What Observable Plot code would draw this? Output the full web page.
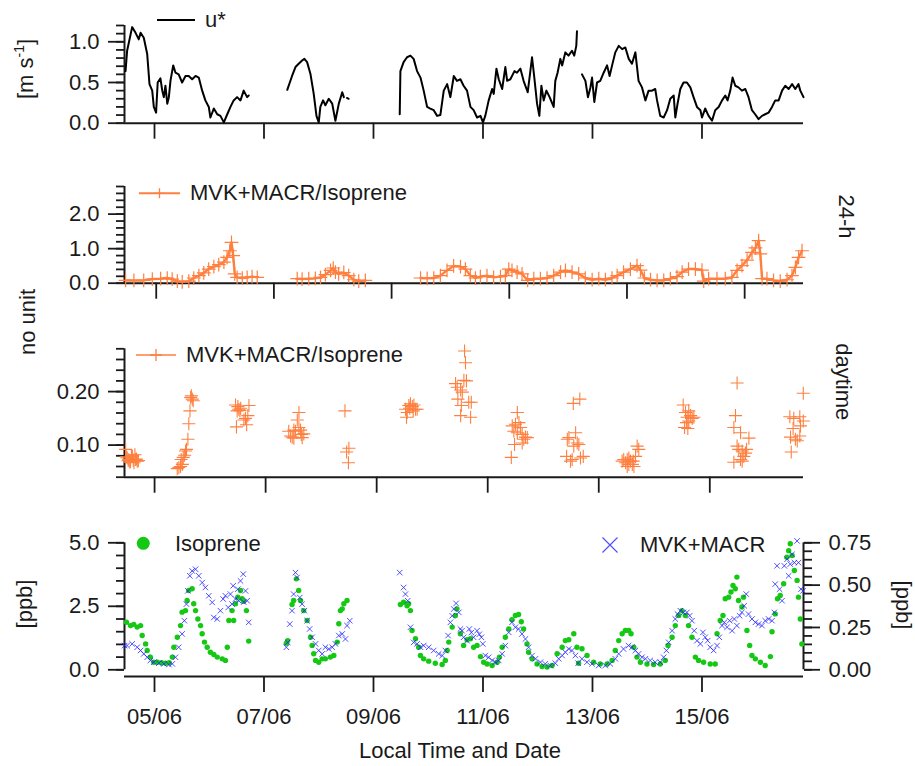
<!DOCTYPE html>
<html><head><meta charset="utf-8">
<script src="https://cdn.jsdelivr.net/npm/d3@7"></script>
<script src="https://cdn.jsdelivr.net/npm/@observablehq/plot@0.6"></script>
<style>
body{margin:0;background:#fff;}
#chart{position:relative;width:915px;height:766px;font-family:"Liberation Sans",Arial,sans-serif;}
#chart svg{position:absolute;left:0;overflow:visible;}
</style></head><body><div id="chart"></div>
<script>
// time unit: hours since 04/06 00:00 local time
const xTickHours = [24, 72, 120, 168, 216, 264];
const xTickLabels = ["05/06", "07/06", "09/06", "11/06", "13/06", "15/06"];

// friction velocity u* [m s-1]; null = data gap
const ustar = [
[11.3,0.64],[12.0,0.89],[14.2,1.18],[15.7,1.11],[17.1,1.03],[17.9,1.11],[19.3,1.05],[20.8,0.85],[21.8,0.48],[23.0,0.40],[23.7,0.20],[24.7,0.13],[25.4,0.50],[26.6,0.55],[27.4,0.40],[28.1,0.32],[28.8,0.46],[29.6,0.24],[30.3,0.32],[31.0,0.52],[32.2,0.71],[33.2,0.62],[34.6,0.60],[36.1,0.50],[37.6,0.58],[39.0,0.58],[40.5,0.54],[42.0,0.58],[43.4,0.56],[44.9,0.40],[46.3,0.28],[47.8,0.20],[48.5,0.07],[50.0,0.18],[51.5,0.11],[52.9,0.09],[54.4,0.01],[55.9,0.11],[57.3,0.20],[58.7,0.28],[60.2,0.32],[61.7,0.28],[63.1,0.40],[64.6,0.32],[65.3,0.34],
null,
[82.2,0.41],[84.3,0.58],[85.8,0.69],[87.2,0.73],[88.7,0.77],[89.7,0.79],[90.9,0.75],[92.4,0.60],[93.8,0.36],[95.0,0.09],[96.0,0.01],[96.7,0.20],[97.9,0.28],[98.9,0.22],[100.4,0.30],[101.9,0.24],[103.3,0.03],[104.8,0.24],[106.3,0.38],[107.0,0.32],
null,
[108.4,0.31],[109.1,0.30],
null,
[131.5,0.11],[131.8,0.64],[133.2,0.75],[134.7,0.81],[136.2,0.83],[137.6,0.79],[139.1,0.64],[140.6,0.56],[142.0,0.40],[143.5,0.20],[144.9,0.18],[146.4,0.16],[147.9,0.09],[149.3,0.10],[150.8,0.40],[152.3,0.48],[153.7,0.32],[155.2,0.58],[156.6,0.52],[158.1,0.54],[159.5,0.46],[161.0,0.40],[162.5,0.20],[163.9,0.16],[165.4,0.07],[166.9,0.09],[168.0,0.01],[169.0,0.09],[170.5,0.28],[172.0,0.42],[172.7,0.36],[173.9,0.67],[174.9,0.54],[176.4,0.42],[177.8,0.69],[178.6,0.52],[180.0,0.54],[181.8,0.64],[182.9,0.62],[184.4,0.67],[185.8,0.52],[187.6,0.38],[188.5,0.58],[189.5,0.81],[190.5,0.56],[191.7,0.24],[192.7,0.09],[193.6,0.46],[194.6,0.28],[195.8,0.40],[197.2,0.32],[199.0,0.20],[199.7,0.52],[200.7,0.62],[201.9,0.79],[202.7,0.71],[204.1,0.87],[205.5,0.83],[207.0,0.89],[208.0,0.83],[208.9,0.95],[209.2,1.13],
null,
[211.4,0.60],[212.9,0.52],[214.0,0.32],[215.1,0.44],[215.8,0.56],[216.8,0.26],[218.0,0.50],[219.4,0.52],[220.9,0.62],[222.4,0.71],[223.5,0.58],[224.6,0.71],[226.0,0.87],[227.5,0.95],[229.0,0.91],[230.4,0.93],[231.9,0.79],[233.3,0.73],[234.8,0.87],[236.2,0.52],[237.7,0.44],[239.2,0.28],[240.6,0.40],[242.1,0.40],[243.5,0.42],[244.3,0.28],[245.7,0.09],[247.2,0.07],[248.7,0.16],[250.1,0.30],[251.6,0.34],[252.3,0.07],[253.3,0.24],[254.5,0.42],[255.9,0.50],[257.4,0.50],[258.9,0.44],[260.3,0.32],[261.8,0.20],[263.3,0.16],[264.0,0.07],[265.4,0.18],[266.9,0.09],[268.4,0.03],[269.8,0.16],[271.3,0.20],[272.8,0.28],[274.2,0.34],[275.2,0.28],[276.4,0.40],[277.4,0.56],[278.6,0.46],[280.0,0.44],[281.5,0.40],[283.0,0.42],[284.4,0.32],[285.9,0.16],[287.3,0.11],[288.8,0.05],[290.3,0.09],[291.7,0.11],[293.2,0.13],[294.7,0.20],[296.1,0.28],[297.6,0.28],[299.1,0.40],[300.5,0.46],[302.0,0.42],[303.5,0.48],[304.9,0.42],[306.3,0.48],[307.1,0.40],[308.5,0.32]
];

// MVK+MACR / Isoprene, 24-h data; null = gap
const ratio24h = [
[11.5,0.08],[14.9,0.08],[18.9,0.08],[22.4,0.12],[25.8,0.13],[28.5,0.15],[30.5,0.12],[32.6,0.06],[34.6,0.04],[37.3,0.06],[39.3,0.15],[41.4,0.22],[43.4,0.30],[45.4,0.41],[47.5,0.48],[49.5,0.54],[51.6,0.61],[52.9,0.75],[54.0,0.94],[54.7,1.18],[55.4,0.80],[56.0,0.27],[57.0,0.17],[59.1,0.15],[61.1,0.17],[63.1,0.19],[65.2,0.17],
null,
[81.5,0.13],[83.5,0.12],[86.2,0.13],[88.9,0.14],[91.0,0.17],[93.0,0.25],[95.1,0.37],[96.2,0.44],[97.1,0.32],[98.4,0.27],[100.5,0.31],[102.5,0.22],[104.6,0.10],[106.6,0.06],[109.3,0.08],
null,
[131.8,0.15],[134.5,0.14],[137.2,0.15],[139.9,0.22],[142.6,0.37],[145.3,0.50],[148.1,0.48],[150.1,0.41],[152.1,0.22],[154.2,0.15],[156.2,0.19],[158.9,0.22],[161.6,0.17],[164.4,0.19],[166.4,0.22],[167.8,0.41],[169.1,0.37],[171.2,0.32],[173.2,0.27],[175.5,0.08],[178.0,0.13],[180.7,0.13],[183.4,0.15],[186.1,0.22],[188.9,0.32],[190.9,0.37],[193.6,0.32],[196.3,0.27],[199.0,0.15],[201.8,0.10],[204.5,0.13],[207.2,0.10],[209.9,0.15],[212.0,0.22],[214.6,0.32],[217.4,0.41],[220.1,0.51],[221.5,0.38],[223.1,0.15],[225.6,0.10],[228.3,0.08],[231.0,0.08],[233.7,0.13],[236.4,0.19],[238.5,0.32],[241.1,0.41],[243.9,0.41],[246.6,0.38],[247.3,0.06],[249.3,0.13],[252.7,0.13],[256.1,0.13],[258.8,0.17],[260.9,0.37],[262.9,0.51],[265.0,0.67],[267.0,0.89],[268.4,1.02],[269.7,1.23],[270.4,0.85],[271.1,0.13],[273.1,0.13],[275.8,0.08],[278.5,0.06],[281.3,0.10],[283.3,0.22],[284.7,0.46],[286.0,0.75],[287.4,0.94]
];

// MVK+MACR / Isoprene, daytime data
const ratioDay = [
[11.5,0.092],[11.8,0.078],[12.2,0.076],[12.6,0.071],[12.9,0.073],[13.3,0.068],[13.6,0.070],[14.0,0.080],[14.4,0.079],[14.8,0.072],[15.1,0.067],[15.5,0.082],[15.8,0.073],[16.2,0.074],[16.5,0.070],[17.0,0.071],
[33.8,0.056],[34.5,0.058],[35.2,0.060],[35.5,0.073],[36.0,0.064],[36.4,0.077],[37.0,0.081],[37.4,0.089],[37.8,0.092],[38.4,0.111],[38.8,0.140],[39.3,0.164],[39.6,0.189],[39.9,0.192],[40.3,0.186],[40.7,0.183],
[59.0,0.175],[59.4,0.134],[59.7,0.164],[60.0,0.172],[60.4,0.167],[60.9,0.165],[61.2,0.169],[62.6,0.147],[63.3,0.150],[63.8,0.138],[64.3,0.155],[64.8,0.174],
[82.0,0.126],[82.8,0.117],[83.5,0.115],[84.2,0.113],[84.2,0.128],[84.9,0.126],[85.7,0.147],[86.4,0.161],[86.4,0.133],[87.1,0.128],[87.4,0.120],[87.8,0.114],[88.5,0.121],
[106.3,0.164],[107.0,0.087],[108.0,0.094],[107.8,0.067],
[132.5,0.167],[132.9,0.152],[133.2,0.161],[133.9,0.174],[134.3,0.169],[134.6,0.177],[135.4,0.172],[135.8,0.164],[136.1,0.175],[136.8,0.167],[137.5,0.167],
[154.1,0.215],[154.8,0.208],[155.1,0.186],[156.3,0.203],[156.3,0.155],[156.6,0.174],[157.0,0.199],[157.7,0.221],[158.0,0.276],[158.4,0.254],[158.8,0.220],[159.8,0.180],[160.6,0.152],[160.9,0.180],
[178.2,0.077],[178.6,0.136],[179.3,0.126],[179.6,0.101],[180.0,0.139],[180.8,0.161],[180.8,0.123],[181.5,0.142],[182.2,0.133],[182.9,0.120],[182.9,0.104],[183.6,0.111],[184.3,0.115],[185.1,0.114],
[202.1,0.079],[202.4,0.111],[203.1,0.114],[203.8,0.070],[204.5,0.073],[205.0,0.178],[205.2,0.098],[206.0,0.123],[206.7,0.104],[207.4,0.101],[207.8,0.186],[208.1,0.076],[209.3,0.079],
[226.1,0.070],[226.8,0.073],[227.6,0.067],[228.3,0.073],[228.3,0.060],[229.0,0.076],[229.0,0.064],[229.7,0.070],[230.5,0.064],[230.9,0.070],[231.2,0.060],[231.9,0.079],[232.6,0.098],[233.3,0.092],
[252.5,0.175],[253.1,0.133],[253.5,0.161],[253.9,0.142],[254.2,0.152],[254.5,0.131],[254.9,0.164],[254.9,0.145],[255.7,0.155],[256.4,0.150],[257.1,0.152],
[274.4,0.133],[275.1,0.155],[275.8,0.216],[275.8,0.098],[276.5,0.092],[277.3,0.123],[278.0,0.089],[278.0,0.070],[278.7,0.079],[279.4,0.085],[279.9,0.092],[280.9,0.113],[274.4,0.068],[277.3,0.073],
[298.6,0.153],[298.9,0.115],[299.2,0.087],[300.0,0.131],[300.3,0.150],[301.0,0.111],[301.8,0.108],[302.9,0.153],[302.9,0.117],[303.2,0.136],[304.4,0.197],[304.4,0.145]
];

// Isoprene [ppb] (left axis)
const isoprene = [
[11.7,1.87],[13.5,1.74],[14.9,1.79],[16.4,1.68],[17.9,1.74],[18.6,1.35],[20.1,1.02],[20.8,0.76],[22.2,0.50],[23.7,0.30],[25.3,0.30],[27.1,0.28],[28.8,0.26],[30.4,0.28],[31.8,0.50],[32.5,0.89],[34.0,1.28],[35.4,1.74],[36.1,2.27],[37.6,2.33],[38.3,2.73],[39.0,3.12],[40.5,3.19],[41.2,2.60],[42.0,2.33],[43.0,2.00],[44.2,1.74],[44.9,1.42],[45.9,1.09],[47.1,0.89],[48.5,0.69],[50.0,0.60],[51.5,0.50],[53.7,0.43],[55.1,0.37],[55.9,0.89],[56.6,1.94],[58.0,2.33],[58.7,1.94],[59.5,2.60],[60.5,2.86],[61.7,3.12],[62.4,2.80],[63.1,2.70],[64.3,2.33],[65.3,1.13],
[81.8,1.05],[82.4,1.15],[84.3,2.57],[85.0,2.73],[86.2,3.58],[87.2,3.12],[88.0,2.73],[89.4,2.33],[90.9,1.94],[92.4,1.28],[93.1,0.96],[93.8,0.63],[94.6,0.37],[96.0,0.30],[97.5,0.43],[98.9,0.43],[101.1,0.50],[102.6,0.56],[104.1,1.09],[104.8,1.81],[105.5,2.33],[106.3,2.40],[107.0,2.60],[108.4,2.73],
[131.8,2.57],[133.2,2.66],[134.7,2.52],[135.4,2.60],[136.2,2.33],[136.9,1.55],[138.4,1.22],[139.8,0.89],[140.6,0.56],[142.0,0.43],[144.2,0.34],[147.1,0.26],[150.1,0.21],[151.5,0.37],[152.3,0.76],[153.0,1.09],[154.5,1.68],[155.9,2.14],[156.6,2.40],[158.1,1.42],[159.5,0.96],[161.0,1.18],[162.5,1.22],[163.9,0.89],[165.4,0.96],[166.9,0.52],[168.3,0.30],[169.8,0.23],[172.0,0.17],[174.2,0.30],[175.2,0.50],[176.4,0.89],[177.8,1.28],[179.3,1.61],[180.7,1.97],[182.2,2.14],[183.6,2.18],[184.8,1.89],[185.8,1.61],[187.3,1.02],[188.0,0.69],[189.5,0.43],[191.7,0.23],[193.9,0.13],[196.1,0.11],[198.3,0.17],[200.5,0.63],[202.7,0.89],[204.1,1.15],[205.6,1.18],[207.8,1.42],[209.2,0.89],[209.9,0.26],[211.4,0.83],[213.6,0.56],[216.5,0.30],[219.4,0.23],[222.4,0.23],[224.6,0.37],[226.0,0.76],[227.5,1.15],[229.0,1.42],[230.4,1.55],[231.9,1.55],[232.9,1.42],[234.1,0.89],[235.5,0.50],[237.0,0.30],[239.9,0.23],[242.8,0.21],[245.7,0.23],[247.9,0.37],[249.1,0.96],[250.9,1.28],[252.3,1.74],[253.8,2.14],[255.2,2.33],[256.7,2.14],[258.1,1.74],[259.6,1.28],[261.1,0.50],[262.5,0.37],[264.7,0.30],[267.6,0.23],[269.8,0.23],[270.6,1.42],[272.0,1.94],[273.2,2.14],[274.2,2.80],[275.7,2.86],[276.7,3.06],[277.6,3.32],[278.6,3.19],[279.3,3.65],[280.0,2.73],[281.5,2.47],[282.2,2.86],[283.7,1.55],[284.9,0.96],[285.9,0.56],[287.4,0.43],[289.6,0.30],[291.7,0.17],[294.0,0.52],[294.7,1.50],[296.1,2.20],[297.1,2.80],[298.3,2.93],[299.8,3.39],[301.2,4.43],[302.0,4.69],[302.7,4.96],[303.5,4.50],[304.5,3.91],[305.7,3.52],[306.3,2.86],[307.1,2.00],[307.8,1.02]
];

// MVK+MACR [ppb] (right axis)
const mvkMacr = [
[10.9,0.143],[12.0,0.143],[14.2,0.153],[16.4,0.133],[17.9,0.114],[19.3,0.094],[20.8,0.074],[22.2,0.055],[23.7,0.045],[25.9,0.039],[28.1,0.035],[30.3,0.031],[31.8,0.035],[33.2,0.074],[34.6,0.133],[36.1,0.212],[37.1,0.290],[38.0,0.388],[38.6,0.466],[39.5,0.555],[40.5,0.584],[42.0,0.594],[43.4,0.555],[44.9,0.515],[46.3,0.486],[47.8,0.437],[49.3,0.398],[50.0,0.309],[51.5,0.300],[52.9,0.349],[54.1,0.418],[55.1,0.437],[56.3,0.368],[57.3,0.447],[58.0,0.388],[58.5,0.496],[59.5,0.418],[60.5,0.476],[60.9,0.408],[61.7,0.525],[62.9,0.565],[63.1,0.400],[63.9,0.466],[64.6,0.408],[65.3,0.280],
[81.8,0.133],[82.4,0.162],[83.3,0.270],[84.3,0.349],[85.0,0.447],[85.8,0.574],[86.5,0.545],[87.7,0.427],[88.7,0.388],[89.7,0.349],[90.9,0.290],[92.0,0.241],[93.1,0.192],[94.6,0.153],[96.0,0.114],[97.5,0.094],[98.9,0.133],[100.4,0.123],[101.9,0.133],[103.3,0.153],[104.8,0.202],[106.3,0.212],[107.7,0.182],[108.4,0.261],[109.6,0.290],
[131.5,0.574],[133.2,0.486],[134.0,0.447],[135.0,0.408],[136.2,0.251],[137.6,0.162],[139.1,0.153],[140.6,0.133],[142.0,0.143],[144.2,0.133],[146.4,0.114],[148.6,0.094],[150.1,0.084],[151.5,0.114],[152.7,0.202],[153.7,0.280],[154.5,0.319],[155.2,0.359],[156.2,0.392],[157.4,0.339],[158.1,0.241],[158.8,0.231],[159.5,0.192],[161.0,0.172],[162.0,0.241],[162.9,0.220],[163.9,0.192],[165.4,0.231],[166.4,0.210],[167.3,0.192],[167.9,0.153],[169.0,0.084],[170.5,0.074],[172.0,0.055],[173.4,0.045],[174.9,0.055],[176.4,0.094],[177.8,0.143],[179.3,0.221],[180.7,0.280],[182.2,0.251],[183.6,0.241],[185.1,0.212],[186.6,0.182],[188.0,0.133],[189.5,0.084],[191.0,0.065],[193.2,0.045],[195.3,0.035],[197.5,0.025],[199.7,0.039],[201.2,0.065],[202.7,0.084],[204.1,0.104],[205.6,0.123],[207.0,0.114],[208.5,0.084],[209.7,0.039],[211.4,0.065],[213.6,0.045],[215.8,0.035],[218.7,0.025],[221.6,0.025],[223.8,0.035],[226.0,0.065],[227.5,0.094],[229.6,0.123],[231.8,0.143],[233.3,0.133],[234.8,0.114],[236.2,0.094],[237.7,0.074],[239.2,0.065],[241.3,0.055],[243.5,0.045],[245.7,0.045],[247.2,0.074],[248.4,0.114],[249.4,0.162],[250.9,0.231],[252.3,0.300],[253.3,0.329],[254.5,0.349],[255.9,0.339],[257.4,0.339],[258.6,0.319],[259.6,0.290],[260.6,0.231],[261.8,0.172],[263.3,0.153],[264.4,0.221],[265.4,0.192],[266.5,0.172],[267.6,0.133],[269.1,0.114],[270.6,0.143],[271.6,0.192],[272.8,0.261],[273.8,0.280],[275.0,0.251],[276.1,0.290],[277.2,0.231],[278.2,0.300],[279.3,0.261],[280.5,0.319],[281.5,0.339],[282.5,0.378],[283.4,0.447],[284.4,0.329],[285.9,0.300],[287.4,0.280],[288.8,0.270],[290.3,0.261],[291.7,0.290],[293.2,0.300],[294.7,0.290],[295.7,0.339],[296.1,0.506],[296.9,0.614],[298.0,0.476],[299.1,0.408],[300.1,0.614],[301.3,0.653],[302.0,0.555],[302.7,0.624],[303.5,0.682],[304.5,0.633],[305.7,0.761],[306.3,0.633],[307.4,0.476],[308.3,0.466]
];

// axis tick values
const ustarTicks = [0, 0.5, 1.0];
const ratio24Ticks = [0, 1, 2];
const ratioDayTicks = [0.10, 0.20];
const isoTicks = [0, 2.5, 5.0];
const mvkTicks = [0, 0.25, 0.50, 0.75];

const ORANGE = "#ff7f3f", GREEN = "#14c814", BLUE = "#2424ff", AX = "#1a1a1a";
const FONT = '"Liberation Sans", Arial, sans-serif';
const toObj = a => a.map(p => p ? {h: p[0], v: p[1]} : {h: NaN, v: NaN});

const style = {fontFamily: FONT, fontSize: "22px", color: AX, background: "transparent", overflow: "visible"};
const W = 915, ML = 124, MR = 112;

function frameMarks(xd, yd, majors, minors, fmt, opts = {}) {
  const y1 = opts.yAxisFrom ?? yd[0], y2 = opts.yAxisTo ?? yd[1];
  return [
    Plot.ruleY([yd[0]], {stroke: AX, strokeWidth: 2}),
    Plot.ruleX([xd[0]], {y1: () => y1, y2: () => y2, stroke: AX, strokeWidth: 2}),
    Plot.axisY(minors, {anchor: "left", tickSize: 8, tickFormat: () => "", label: null, strokeWidth: 1.8}),
    Plot.axisY(majors, {anchor: "left", tickSize: 16, tickPadding: 9, tickFormat: fmt, label: null, strokeWidth: 1.8}),
    Plot.axisX(xTickHours, {anchor: "bottom", tickSize: 16, tickPadding: 16, label: null, strokeWidth: 1.8,
      tickFormat: opts.xLabels ? (d => xTickLabels[xTickHours.indexOf(d)]) : (() => "")})
  ];
}

const root = document.getElementById("chart");
function place(svg, top) { svg.style.top = top + "px"; root.appendChild(svg); }

// Panel 1: u*
const x1 = [10.85, 308.5], y1d = [0, 1.2];
place(Plot.plot({
  width: W, height: 150, marginLeft: ML, marginRight: MR, marginTop: 25, marginBottom: 27.3,
  x: {domain: x1}, y: {domain: y1d}, style,
  marks: [
    ...frameMarks(x1, y1d, ustarTicks, d3.range(0, 1.2001, 0.1), d => d.toFixed(1)),
    Plot.line(toObj(ustar), {x: "h", y: "v", stroke: "#000", strokeWidth: 2})
  ]
}), 0);

// Panel 2: ratio 24-h
const x2 = [11.06, 288], y2d = [0, 2.8];
const r24 = toObj(ratio24h);
place(Plot.plot({
  width: W, height: 150, marginLeft: ML, marginRight: MR, marginTop: 26, marginBottom: 27.3,
  x: {domain: x2}, y: {domain: y2d}, style,
  marks: [
    ...frameMarks(x2, y2d, ratio24Ticks, d3.range(0, 2.8001, 0.2), d => d.toFixed(1)),
    Plot.line(r24, {x: "h", y: "v", stroke: ORANGE, strokeWidth: 2.4}),
    Plot.dot(r24.filter(d => !isNaN(d.h)), {x: "h", y: "v", symbol: "plus", r: 4.5, stroke: ORANGE, strokeWidth: 1.2})
  ]
}), 160);

// Panel 3: ratio daytime
const x3 = [11.0, 304.5], y3d = [0.04, 0.28];
place(Plot.plot({
  width: W, height: 170, marginLeft: ML, marginRight: MR, marginTop: 18.3, marginBottom: 23.3,
  x: {domain: x3}, y: {domain: y3d}, style,
  marks: [
    ...frameMarks(x3, y3d, ratioDayTicks, d3.range(0.04, 0.2801, 0.02), d => d.toFixed(2)),
    Plot.dot(toObj(ratioDay), {x: "h", y: "v", symbol: "plus", r: 4.3, stroke: ORANGE, strokeWidth: 1.1})
  ]
}), 330);

// Panel 4: isoprene & MVK+MACR
const x4 = [10.85, 308.5], axisOffset = 0.264, y4d = [-axisOffset, 5];
const k = isoTicks[2] / mvkTicks[3];
place(Plot.plot({
  width: W, height: 256, marginLeft: ML, marginRight: MR, marginTop: 32.3, marginBottom: 90,
  x: {domain: x4}, y: {domain: y4d}, style,
  marks: [
    ...frameMarks(x4, y4d, isoTicks, d3.range(0, 5.001, 0.5), d => d.toFixed(1), {yAxisFrom: 0, yAxisTo: 5, xLabels: true}),
    Plot.ruleX([x4[1]], {y1: () => 0, y2: () => 5, stroke: AX, strokeWidth: 2}),
    Plot.axisY(d3.range(0, 0.7501, 0.05).map(t => t * k), {anchor: "right", tickSize: 8, tickFormat: () => "", label: null, strokeWidth: 1.8}),
    Plot.axisY(mvkTicks.map(t => t * k), {anchor: "right", tickSize: 16, tickPadding: 9, tickFormat: d => (d / k).toFixed(2), label: null, strokeWidth: 1.8}),
    Plot.dot(toObj(isoprene), {x: "h", y: "v", r: 2.7, fill: GREEN, stroke: "none"}),
    Plot.dot(toObj(mvkMacr), {x: "h", y: d => d.v * k, symbol: "times", r: 2.6, stroke: BLUE, strokeWidth: 1, strokeOpacity: 0.8})
  ]
}), 510);

// overlay: legends and axis titles
const ov = d3.create("svg").attr("width", W).attr("height", 766)
  .style("top", "0px").style("pointer-events", "none")
  .attr("font-family", FONT).attr("font-size", 22).attr("fill", AX);
function txt(x, y, s, rot = 0, anchor = "start") {
  return ov.append("text").attr("transform", `translate(${x},${y}) rotate(${rot})`).attr("text-anchor", anchor).text(s);
}
// panel 1 legend
ov.append("line").attr("x1", 157).attr("x2", 195).attr("y1", 20).attr("y2", 20).attr("stroke", "#000").attr("stroke-width", 2);
txt(205, 27, "u*");
// panel 2 legend
ov.append("line").attr("x1", 139).attr("x2", 180).attr("y1", 193.3).attr("y2", 193.3).attr("stroke", ORANGE).attr("stroke-width", 2);
ov.append("path").attr("d", "M154.5,193.3h10M159.5,188.3v10").attr("stroke", ORANGE).attr("stroke-width", 1.3);
txt(190, 200, "MVK+MACR/Isoprene");
// panel 3 legend
ov.append("line").attr("x1", 136).attr("x2", 176).attr("y1", 355).attr("y2", 355).attr("stroke", ORANGE).attr("stroke-width", 1.6);
ov.append("path").attr("d", "M150,355h12M156,349v12").attr("stroke", ORANGE).attr("stroke-width", 1.3);
txt(186, 362, "MVK+MACR/Isoprene");
// panel 4 legends
ov.append("circle").attr("cx", 143.3).attr("cy", 543.3).attr("r", 6.5).attr("fill", GREEN);
txt(175, 551, "Isoprene");
ov.append("path").attr("d", "M602.5,537.5l15,15M617.5,537.5l-15,15").attr("stroke", BLUE).attr("stroke-width", 1.2).attr("stroke-opacity", 0.8);
txt(640, 551.7, "MVK+MACR");
// axis titles
const t1 = ov.append("text").attr("transform", "translate(33,69) rotate(-90)").attr("text-anchor", "middle");
t1.append("tspan").text("[m s");
t1.append("tspan").attr("font-size", 14).attr("dy", -9).text("-1");
t1.append("tspan").attr("dy", 9).text("]");
txt(35, 322, "no unit", -90, "middle");
txt(32, 604, "[ppb]", -90, "middle");
txt(838.5, 216.5, "24-h", 90, "middle");
txt(836, 381.7, "daytime", 90, "middle");
txt(896, 605, "[ppb]", 90, "middle");
txt(460, 758, "Local Time and Date", 0, "middle");
root.appendChild(ov.node());
</script>
</body></html>
